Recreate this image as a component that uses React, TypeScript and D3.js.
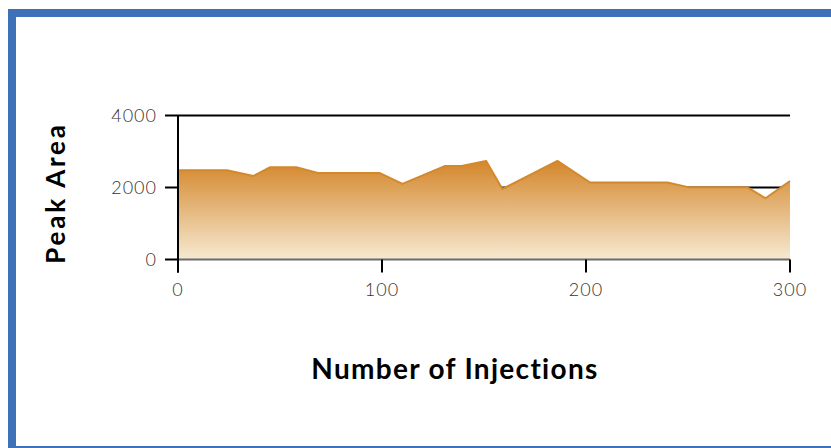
import React from 'react';
import * as d3 from 'd3';

const injections = [0, 24, 37, 45, 58, 69, 99, 110, 131, 139, 151, 159, 186, 202, 240, 250, 279, 288, 300];
const peakArea = [2480, 2480, 2320, 2560, 2560, 2400, 2400, 2100, 2600, 2600, 2740, 1960, 2740, 2140, 2140, 2010, 2010, 1700, 2180];
const xTicks = [0, 100, 200, 300];
const yTicks = [0, 2000, 4000];

const W = 831;
const H = 448;
const FONT = "Futura, 'Century Gothic', Lato, sans-serif";

const App = () => {
  const x = d3.scaleLinear().domain([0, 300]).range([178, 790]);
  const y = d3.scaleLinear().domain([0, 4000]).range([259.5, 115.5]);

  const points = injections.map((d, i) => ({ x: d, y: peakArea[i] }));

  const area = d3
    .area<{ x: number; y: number }>()
    .x((d) => x(d.x))
    .y0(y(0))
    .y1((d) => y(d.y));

  const line = d3
    .line<{ x: number; y: number }>()
    .x((d) => x(d.x))
    .y((d) => y(d.y));

  return (
    <svg width={W} height={H} style={{ position: 'absolute', left: 0, top: 0, background: '#fff' }}>
      <defs>
        <linearGradient id="fillGrad" x1="0" y1="0" x2="0" y2="1">
          <stop offset="0%" stopColor="#d4862a" />
          <stop offset="100%" stopColor="#f6ead2" />
        </linearGradient>
      </defs>

      {/* frame */}
      <rect x={12} y={13} width={900} height={437} fill="none" stroke="#3e71b8" strokeWidth={8} />

      {/* gridlines */}
      {yTicks
        .filter((t) => t > 0)
        .map((t) => (
          <line key={t} x1={x(0)} x2={x(300)} y1={y(t)} y2={y(t)} stroke="#000" strokeWidth={2} />
        ))}

      <path d={area(points) ?? ''} fill="url(#fillGrad)" />
      <path d={line(points) ?? ''} fill="none" stroke="#d4882c" strokeWidth={2} strokeLinejoin="round" />

      {/* baseline */}
      <line x1={x(0)} x2={x(300)} y1={y(0)} y2={y(0)} stroke="#6b6b6b" strokeWidth={2} />

      {/* y axis */}
      <line x1={x(0)} x2={x(0)} y1={y(4000)} y2={y(0) + 13} stroke="#000" strokeWidth={2} />
      {yTicks.map((t) => (
        <g key={t}>
          <line x1={x(0) - 13} x2={x(0)} y1={y(t)} y2={y(t)} stroke="#000" strokeWidth={2} />
          <text
            x={x(0) - 21}
            y={y(t)}
            dy="0.35em"
            textAnchor="end"
            fontFamily={FONT}
            fontWeight={300}
            fontSize={18}
            letterSpacing={1}
            fill="#333"
          >
            {t}
          </text>
        </g>
      ))}

      {/* x ticks */}
      {xTicks.map((t) => (
        <g key={t}>
          <line x1={x(t)} x2={x(t)} y1={y(0)} y2={y(0) + 13} stroke="#000" strokeWidth={2} />
          <text
            x={x(t)}
            y={296}
            textAnchor="middle"
            fontFamily={FONT}
            fontWeight={300}
            fontSize={18}
            letterSpacing={1}
            fill="#333"
          >
            {t}
          </text>
        </g>
      ))}

      <text
        x={455}
        y={379}
        textAnchor="middle"
        fontFamily={FONT}
        fontWeight={700}
        fontSize={28}
        letterSpacing={1.3}
        fill="#000"
      >
        Number of Injections
      </text>
      <text
        transform="translate(65,193) rotate(-90)"
        textAnchor="middle"
        fontFamily={FONT}
        fontWeight={700}
        fontSize={26}
        letterSpacing={2.8}
        fill="#000"
      >
        Peak Area
      </text>
    </svg>
  );
};

export default App;
